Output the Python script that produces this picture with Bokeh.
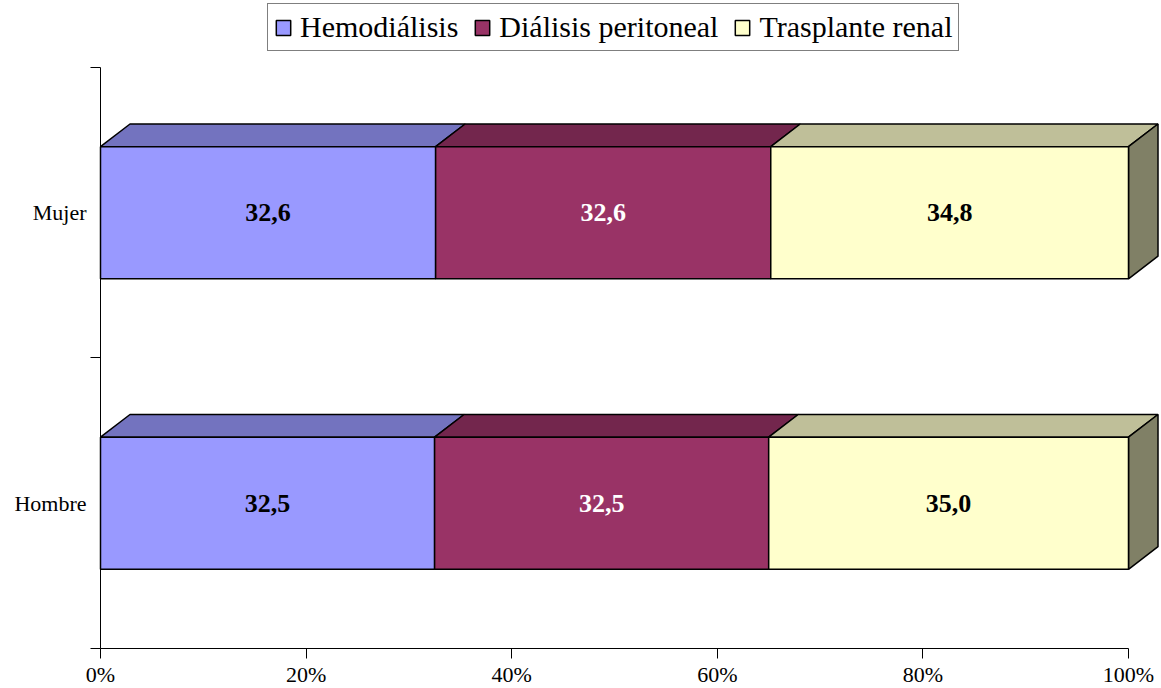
from bokeh.plotting import figure
from bokeh.models import Range1d, FixedTicker, Legend, LegendItem, ColumnDataSource
from bokeh.embed import file_html
from bokeh.resources import INLINE
from bokeh.core.properties import value

# ---------------- data ----------------
categories = ["Hombre", "Mujer"]
series_names = ["Hemodiálisis", "Diálisis peritoneal", "Trasplante renal"]
hemodialisis = [32.5, 32.6]
dialisis_peritoneal = [32.5, 32.6]
trasplante_renal = [35.0, 34.8]
x_ticks = [0, 20, 40, 60, 80, 100]
x_tick_labels = ["0%", "20%", "40%", "60%", "80%", "100%"]

front_colors = ["#9999FF", "#993366", "#FFFFCC"]
top_colors = ["#7373BF", "#73264D", "#BFBF99"]
side_color = "#808066"
label_colors = ["black", "white", "black"]

FONT = "Liberation Serif"
bar_h = 0.455     # bar thickness in category units
dx = 2.87         # 3D depth, x (percent units)
dy = 0.078        # 3D depth, y (category units)

W, H = 1161, 688
p = figure(width=W, height=H, output_backend="svg", toolbar_location=None,
           x_range=Range1d(-9.728, 103.21), y_range=Range1d(-0.1377, 2.2306),
           min_border_left=0, min_border_right=0, min_border_top=0, min_border_bottom=0)
p.outline_line_color = None
p.xgrid.visible = False
p.ygrid.visible = False
p.background_fill_color = "white"
p.border_fill_color = "white"

all_series = [hemodialisis, dialisis_peritoneal, trasplante_renal]
centers = [i + 0.5 for i in range(len(categories))]
lefts = [0.0] * len(categories)
renderers = []
for si, vals in enumerate(all_series):
    rights = [l + v for l, v in zip(lefts, vals)]
    # top faces
    xs, ys = [], []
    for c, l, r in zip(centers, lefts, rights):
        t = c + bar_h / 2
        xs.append([l, r, r + dx, l + dx])
        ys.append([t, t, t + dy, t + dy])
    p.patches(xs=xs, ys=ys, fill_color=top_colors[si], line_color="black", line_width=1.5)
    # side face for last segment
    if si == len(all_series) - 1:
        sx, sy = [], []
        for c, r in zip(centers, rights):
            b = c - bar_h / 2
            t = c + bar_h / 2
            sx.append([r, r + dx, r + dx, r])
            sy.append([b, b + dy, t + dy, t])
        p.patches(xs=sx, ys=sy, fill_color=side_color, line_color="black", line_width=1.5)
    src = ColumnDataSource(dict(
        y=centers, left=lefts, right=rights,
        mid=[(l + r) / 2 for l, r in zip(lefts, rights)],
        txt=[f"{v:.1f}".replace(".", ",") for v in vals],
    ))
    r = p.hbar(y="y", left="left", right="right", height=bar_h, source=src,
               fill_color=front_colors[si], line_color="black", line_width=1.5)
    renderers.append(r)
    p.text(x="mid", y="y", text="txt", source=src, text_align="center",
           text_baseline="middle", text_font=value(FONT), text_font_size="26px",
           text_font_style="bold", text_color=label_colors[si])
    lefts = rights

# axes
xa = p.xaxis[0]
xa.fixed_location = 0
xa.ticker = FixedTicker(ticks=x_ticks)
xa.major_label_overrides = {t: l for t, l in zip(x_ticks, x_tick_labels)}
xa.bounds = (0, 100)
xa.axis_line_color = "black"
xa.major_tick_line_color = "black"
xa.major_tick_out = 10
xa.major_tick_in = 0
xa.minor_tick_line_color = None
xa.major_label_standoff = 4
xa.major_label_text_font = FONT
xa.major_label_text_font_size = "22px"
xa.major_label_text_color = "black"

ya = p.yaxis[0]
ya.fixed_location = 0
ya.ticker = FixedTicker(ticks=centers, minor_ticks=[0, 1, 2])
ya.major_label_overrides = {c: n for c, n in zip(centers, categories)}
ya.bounds = (0, 2)
ya.axis_line_color = "black"
ya.major_tick_line_color = None
ya.major_tick_out = 0
ya.major_tick_in = 0
ya.minor_tick_line_color = "black"
ya.minor_tick_out = 10
ya.minor_tick_in = 0
ya.major_label_standoff = 4
ya.major_label_text_font = FONT
ya.major_label_text_font_size = "22px"
ya.major_label_text_color = "black"

legend = Legend(
    items=[LegendItem(label=n, renderers=[r]) for n, r in zip(series_names, renderers)],
    orientation="horizontal", location=(267, 637), margin=0, padding=6,
    spacing=15, label_standoff=8, glyph_width=18, glyph_height=19,
    label_text_font=FONT, label_text_font_size="30px", label_text_color="black",
    border_line_color="black", border_line_width=1, background_fill_alpha=1.0,
)
p.add_layout(legend)

open("out.html", "w").write(file_html(p, INLINE))
